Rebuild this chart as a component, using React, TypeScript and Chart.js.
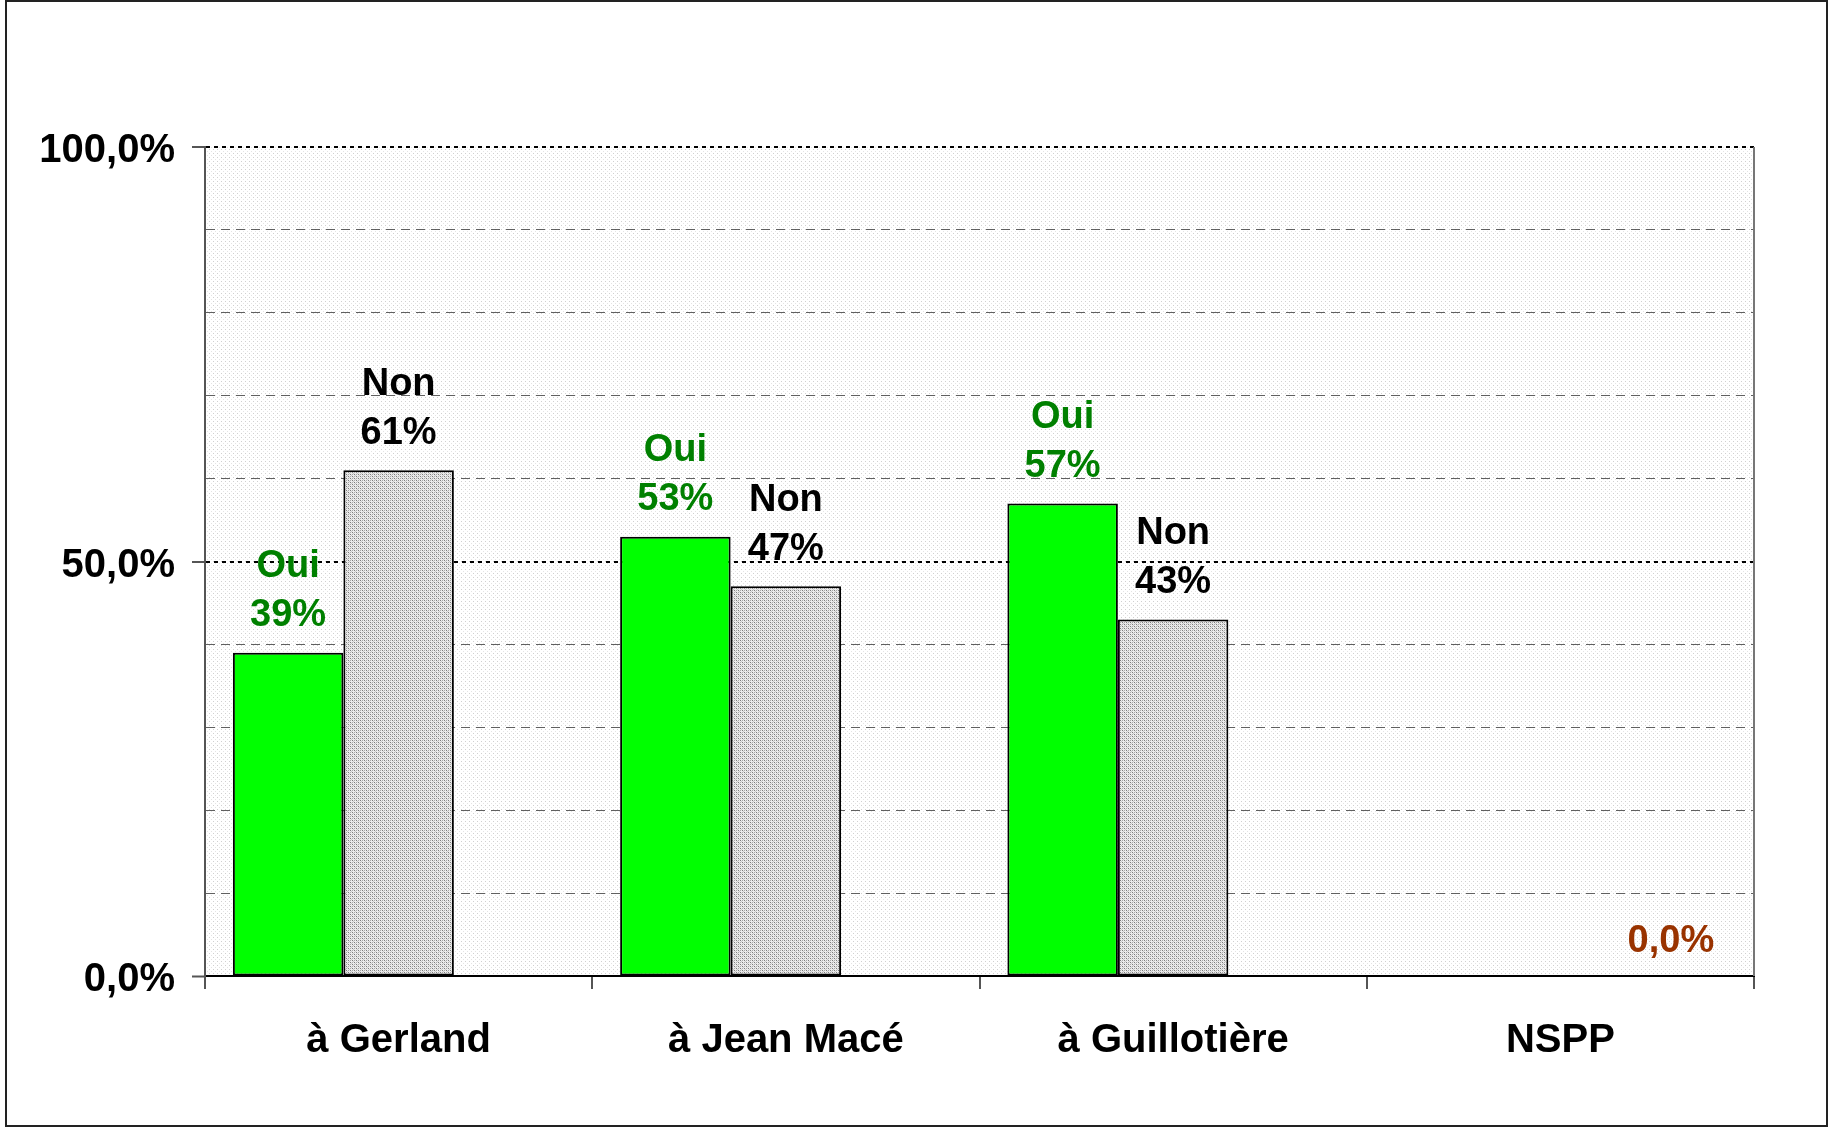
import React, { useEffect, useRef } from "react";
import { Chart, registerables } from "chart.js";

Chart.register(...registerables);

const categories = ["à Gerland", "à Jean Macé", "à Guillotière", "NSPP"];
const seriesNames = ["Oui", "Non", "NSPP"];
const ouiValues: (number | null)[] = [39, 53, 57, null];
const nonValues: (number | null)[] = [61, 47, 43, null];
const nsppValues: (number | null)[] = [null, null, null, 0];
const labelledTicks = [0, 50, 100];
const labelColors = ["#008000", "#000000", "#993300"];

const FONT = "'Liberation Sans', Arial, Helvetica, sans-serif";

function makePattern(size: number, bg: string, dots: [number, number, string][]) {
  const c = document.createElement("canvas");
  c.width = size;
  c.height = size;
  const g = c.getContext("2d")!;
  g.fillStyle = bg;
  g.fillRect(0, 0, size, size);
  for (const [x, y, col] of dots) {
    g.fillStyle = col;
    g.fillRect(x, y, 1, 1);
  }
  return c;
}

const fmtTick = (v: number) => v.toFixed(1).replace(".", ",") + "%";

export default function App() {
  const ref = useRef<HTMLCanvasElement | null>(null);

  useEffect(() => {
    const canvas = ref.current!;
    const ctx0 = canvas.getContext("2d")!;
    const greyPat = ctx0.createPattern(
      makePattern(4, "#ebebeb", [
        [0, 0, "#7c7c7c"],
        [2, 2, "#7c7c7c"],
        [2, 0, "#a8a8a8"],
        [0, 2, "#a8a8a8"],
        [1, 1, "#c8c8c8"],
        [3, 3, "#c8c8c8"],
      ]),
      "repeat"
    )!;
    const bgPat = ctx0.createPattern(
      makePattern(4, "#ffffff", [
        [1, 1, "#d0d0d0"],
        [3, 3, "#e4e4e4"],
      ]),
      "repeat"
    )!;

    const framePlugin = {
      id: "frame",
      beforeDraw(chart: any) {
        const { ctx, chartArea: a } = chart;
        ctx.save();
        ctx.fillStyle = "#ffffff";
        ctx.fillRect(0, 0, chart.width, chart.height);
        ctx.fillStyle = bgPat;
        ctx.fillRect(a.left, a.top, a.right - a.left, a.bottom - a.top);
        ctx.restore();
      },
      beforeDatasetsDraw(chart: any) {
        const { ctx, chartArea: a } = chart;
        ctx.save();
        ctx.strokeStyle = "#777777";
        ctx.lineWidth = 2;
        ctx.beginPath();
        ctx.moveTo(a.right, a.top);
        ctx.lineTo(a.right, a.bottom);
        ctx.stroke();
        ctx.restore();
      },
      afterDraw(chart: any) {
        const { ctx } = chart;
        const y = chart.scales.y;
        ctx.save();
        ctx.font = `bold 40px ${FONT}`;
        ctx.textAlign = "right";
        ctx.textBaseline = "middle";
        ctx.fillStyle = "#000000";
        for (const v of labelledTicks) {
          ctx.fillText(fmtTick(v), y.right - 30, y.getPixelForValue(v) + 4);
        }
        ctx.strokeStyle = "#222222";
        ctx.lineWidth = 2;
        ctx.strokeRect(6, 1, 1821, 1125);
        ctx.restore();
      },
    };

    const labelPlugin = {
      id: "barLabels",
      afterDatasetsDraw(chart: any) {
        const { ctx } = chart;
        ctx.save();
        ctx.font = `bold 38px ${FONT}`;
        ctx.textAlign = "center";
        ctx.textBaseline = "middle";
        chart.data.datasets.forEach((ds: any, di: number) => {
          const meta = chart.getDatasetMeta(di);
          meta.data.forEach((el: any, i: number) => {
            const v = ds.data[i];
            if (v === null || v === undefined) return;
            ctx.fillStyle = labelColors[di];
            if (di === 2) {
              ctx.fillText(fmtTick(v), el.x, el.y - 34);
            } else {
              ctx.fillText(`${v}%`, el.x, el.y - 37);
              ctx.fillText(seriesNames[di], el.x, el.y - 86);
            }
          });
        });
        ctx.restore();
      },
    };

    const chart = new Chart(canvas, {
      type: "bar",
      data: {
        labels: categories,
        datasets: [
          {
            label: seriesNames[0],
            data: ouiValues,
            backgroundColor: "#00ff00",
            borderColor: "#000000",
            borderWidth: 2,
            borderSkipped: false,
          },
          {
            label: seriesNames[1],
            data: nonValues,
            backgroundColor: greyPat as any,
            borderColor: "#000000",
            borderWidth: 2,
            borderSkipped: false,
          },
          {
            label: seriesNames[2],
            data: nsppValues,
            backgroundColor: "rgba(0,0,0,0)",
            borderWidth: 0,
          },
        ],
      },
      options: {
        animation: false,
        responsive: false,
        devicePixelRatio: 1,
        layout: { padding: { left: 0, top: 147, right: 76, bottom: 0 } },
        datasets: {
          bar: { categoryPercentage: 0.856, barPercentage: 1 },
        },
        plugins: {
          legend: { display: false },
          tooltip: { enabled: false },
          title: { display: false },
        },
        scales: {
          x: {
            offset: true,
            afterFit: (s: any) => {
              s.height = 152;
            },
            grid: {
              offset: true,
              drawOnChartArea: false,
              drawTicks: true,
              tickLength: 13,
              tickColor: "#555555",
              tickWidth: 2,
              color: "#555555",
              lineWidth: 2,
            },
            border: { display: true, color: "#000000", width: 2 },
            ticks: {
              color: "#000000",
              padding: 28,
              font: { family: FONT, size: 40, weight: "bold" },
              maxRotation: 0,
              autoSkip: false,
            },
          },
          y: {
            min: 0,
            max: 100,
            afterFit: (s: any) => {
              s.width = 205;
            },
            ticks: {
              stepSize: 10,
              padding: 17,
              color: "#000000",
              font: { family: FONT, size: 40, weight: "bold" },
              callback: () => "",
            },
            grid: {
              drawTicks: true,
              tickLength: 13,
              tickWidth: 2,
              tickColor: (c: any) =>
                c.tick && labelledTicks.includes(c.tick.value) ? "#555555" : "rgba(0,0,0,0)",
              color: (c: any) => {
                const v = c.tick ? c.tick.value : -1;
                if (v === 0) return "rgba(0,0,0,0)";
                if (v === 50 || v === 100) return "#000000";
                return "#606060";
              },
              lineWidth: (c: any) => {
                const v = c.tick ? c.tick.value : -1;
                return v === 50 || v === 100 ? 2 : 1;
              },
            },
            border: {
              display: true,
              color: "#555555",
              width: 2,
              dash: (c: any) => {
                const v = c.tick ? c.tick.value : -1;
                if (v === 50 || v === 100) return [4, 4];
                if (v < 0) return [];
                return [9, 6];
              },
            },
          },
        },
      },
      plugins: [framePlugin, labelPlugin],
    } as any);

    return () => chart.destroy();
  }, []);

  return (
    <div style={{ position: "absolute", left: 0, top: 0, width: 1830, height: 1128 }}>
      <canvas ref={ref} width={1830} height={1128} style={{ display: "block", width: 1830, height: 1128 }} />
    </div>
  );
}
